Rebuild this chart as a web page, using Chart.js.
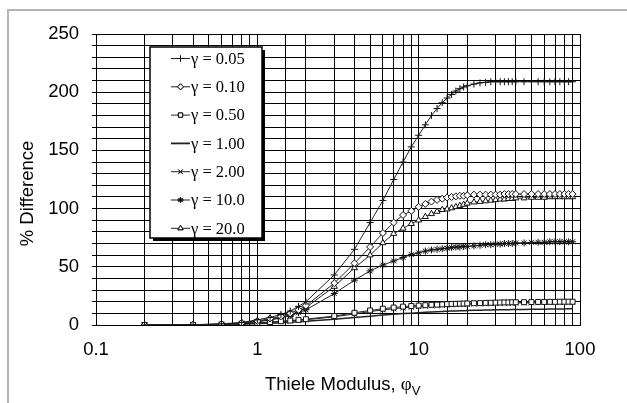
<!DOCTYPE html>
<html><head><meta charset="utf-8">
<script src="https://cdn.jsdelivr.net/npm/chart.js@4.4.1/dist/chart.umd.min.js"></script>
<style>html,body{margin:0;padding:0;background:#fff;overflow:hidden}canvas{display:block}</style>
</head><body>
<canvas id="c" width="627" height="403"></canvas>
<script>
// Thiele modulus values (x)
const phi = [0.2,0.4,0.6,0.8,1,1.2,1.4,1.6,1.8,2, 3,4,5,6,7,8,9,10, 11,12,13,14,15,16,17,18,19,20, 22,24,26,28,30,32,34,36,38,40, 45,50,55,60,65,70,75,80,85,90];

// % Difference for each gamma
const g005 = [0,0.3,1,2.2,4.5,6.5,9,12,16,20, 43,65,88,107,125,140,153,163, 172,180,186,191,195,198,201,203,204.5,205.5, 207,208,208.5,209,209,209,209,209,209,209, 209,209,209,209,209,209,209,209,209,209];
const g010 = [0,0.2,0.8,1.8,3.5,5.5,7.5,10,13,16.5, 36,53,67,79,88,94.5,98,101.5, 104,106,107.5,108.5,109.5,110,110.5,111,111,111.5, 112,112,112,112,112,112,112.5,112.5,112.5,112.5, 112.5,112.5,112.5,112.5,112.5,112.5,112.5,112.5,112.5,112.5];
const g050 = [0,0.1,0.4,1,1.8,2.5,3.2,3.8,4.4,5, 7.7,10.5,12.5,14,15,15.8,16.3,16.7, 17,17.3,17.5,17.7,17.9,18.1,18.2,18.3,18.4,18.5, 18.7,18.8,19,19.1,19.2,19.3,19.4,19.4,19.5,19.5, 19.6,19.7,19.8,19.8,19.9,19.9,20,20,20,20];
const g100 = [0,0.1,0.3,0.7,1.2,1.6,2,2.4,2.8,3.2, 5,6.5,7.6,8.5,9.2,9.8,10.2,10.6, 10.9,11.2,11.4,11.6,11.8,12,12.1,12.2,12.3,12.4, 12.6,12.7,12.8,12.9,13,13.1,13.2,13.2,13.3,13.3, 13.4,13.5,13.6,13.6,13.7,13.7,13.8,13.8,13.9,14];
const g200 = [0,0.1,0.4,0.9,1.6,2.3,2.9,3.5,4,4.5, 7,9.5,11.5,13,14,14.8,15.3,15.8, 16.2,16.5,16.8,17,17.2,17.4,17.5,17.6,17.7,17.8, 18,18.2,18.3,18.4,18.5,18.6,18.7,18.8,18.9,18.9, 19,19.1,19.2,19.3,19.3,19.4,19.4,19.5,19.5,19.5];
const g1000 = [0,0.2,0.7,1.5,2.8,4.3,6,8,10.5,13, 27,38.5,46.5,51.5,55,58,60.5,62, 63.5,64.5,65,65.5,66,66.5,67,67,67.5,67.5, 68,68.5,69,69,69.5,69.5,70,70,70,70.5, 70.5,71,71,71,71.5,71.5,71.5,71.5,71.5,71.5];
const g2000 = [0,0.2,0.7,1.6,3,4.6,6.5,8.8,11.5,15, 33,49,60,70.5,78.5,83,87,90, 93,95.5,97.5,99,99.5,100.5,101.5,102.5,103.5,104.5, 105.5,106,106.5,107,107.5,108,108,108.5,108.5,109, 109,109.5,109.5,109.5,110,110,110,110,110,110];

const labels = ['\u03b3 = 0.05','\u03b3 = 0.10','\u03b3 = 0.50','\u03b3 = 1.00','\u03b3 = 2.00','\u03b3 = 10.0','\u03b3 = 20.0'];
const series = [g005,g010,g050,g100,g200,g1000,g2000];
const styles = ['cross','rectRot','rect',false,'crossRot','star','triangle'];

const yTickLabels = [0,50,100,150,200,250];
const xTickLabels = [0.1,1,10,100];

const SANS = '"Liberation Sans", Arial, sans-serif';
const SERIF = '"Liberation Serif", "Times New Roman", serif';

const datasets = series.map((arr,i)=>({
  label: labels[i],
  data: phi.map((x,j)=>({x:x,y:arr[j]})),
  borderColor: '#222',
  borderWidth: styles[i] ? 1 : 1.5,
  pointStyle: styles[i] || 'circle',
  pointRadius: styles[i] ? 3.5 : 0,
  pointBorderColor: '#111',
  pointBackgroundColor: '#fff',
  pointBorderWidth: 1,
  fill: false,
  tension: 0
}));

function marker(ctx, style, x, y, r){
  if(!style) return;
  if (window.Chart && Chart.helpers && Chart.helpers.drawPoint){
    Chart.helpers.drawPoint(ctx,{pointStyle:style,radius:r,borderWidth:1,rotation:0},x,y);
    if(style!=='cross'&&style!=='crossRot'&&style!=='star'){ctx.fill();}
    ctx.stroke();
  }
}

const deco = {
  id:'deco',
  beforeDraw(chart){
    const ctx = chart.ctx;
    ctx.save();
    ctx.strokeStyle = '#b4b4b4'; ctx.lineWidth = 2;
    ctx.beginPath(); ctx.moveTo(8,403); ctx.lineTo(8,10); ctx.lineTo(627,10); ctx.stroke();
    ctx.restore();
  },
  afterDatasetsDraw(chart){
    const ctx = chart.ctx;
    const bx=150, by=47, bw=112, bh=191;
    ctx.save();
    ctx.fillStyle='#000';
    ctx.fillRect(bx+3,by+3,bw,bh);
    ctx.fillStyle='#fff';
    ctx.fillRect(bx,by,bw,bh);
    ctx.strokeStyle='#000'; ctx.lineWidth=1.5;
    ctx.strokeRect(bx,by,bw,bh);
    for(let i=0;i<labels.length;i++){
      const y = 58.5 + i*28.3;
      ctx.strokeStyle='#222'; ctx.lineWidth = styles[i]?1:1.8;
      ctx.beginPath(); ctx.moveTo(171,y); ctx.lineTo(190,y); ctx.stroke();
      ctx.strokeStyle='#111'; ctx.fillStyle='#fff'; ctx.lineWidth=1;
      marker(ctx, styles[i], 180.5, y, 3);
      ctx.fillStyle='#000';
      ctx.font = '16.5px '+SERIF;
      ctx.textAlign='left'; ctx.textBaseline='middle';
      ctx.fillText(labels[i], 191, y+1);
    }
    ctx.restore();
    ctx.save();
    ctx.fillStyle='#000';
    ctx.font='18.5px '+SANS;
    ctx.translate(33,193.5); ctx.rotate(-Math.PI/2);
    ctx.textAlign='center'; ctx.textBaseline='alphabetic';
    ctx.fillText('% Difference',0,0);
    ctx.restore();
    ctx.save();
    ctx.fillStyle='#000';
    ctx.font='18.5px '+SANS;
    ctx.textAlign='left'; ctx.textBaseline='alphabetic';
    const t='Thiele Modulus, ';
    ctx.fillText(t,265,390);
    let w = ctx.measureText(t).width;
    ctx.font='19px '+SERIF;
    ctx.fillText('\u03c6',265+w,390);
    const w2 = ctx.measureText('\u03c6').width;
    ctx.font='13px '+SANS;
    ctx.fillText('V',265+w+w2,395);
    ctx.restore();
  }
};

new Chart(document.getElementById('c'),{
  type:'line',
  data:{datasets:datasets},
  options:{
    responsive:false, animation:false,
    layout:{padding:{left:0,top:34,right:47,bottom:0}},
    plugins:{legend:{display:false},tooltip:{enabled:false},title:{display:false}},
    elements:{line:{tension:0}},
    scales:{
      x:{
        type:'logarithmic', min:0.1, max:100,
        afterFit(s){ s.height = 78; },
        border:{color:'#000',width:1},
        grid:{color:'#000',lineWidth:1,drawTicks:false},
        ticks:{
          autoSkip:false, maxRotation:0, minRotation:0, padding:14, color:'#000',
          font:{family:SANS,size:18.5},
          callback:(v)=>{ const m = xTickLabels.find(t=>Math.abs(t-v)/t<1e-6); return m!==undefined ? String(m) : ''; }
        }
      },
      y:{
        min:0, max:250,
        afterFit(s){ s.width = 96; },
        border:{color:'#000',width:1},
        grid:{color:'#000',lineWidth:1,tickLength:4},
        ticks:{
          stepSize:10, padding:13, color:'#000', autoSkip:false,
          font:{family:SANS,size:18.5},
          callback:(v)=> yTickLabels.includes(v) ? String(v) : ''
        }
      }
    }
  },
  plugins:[deco]
});
</script>
</body></html>
